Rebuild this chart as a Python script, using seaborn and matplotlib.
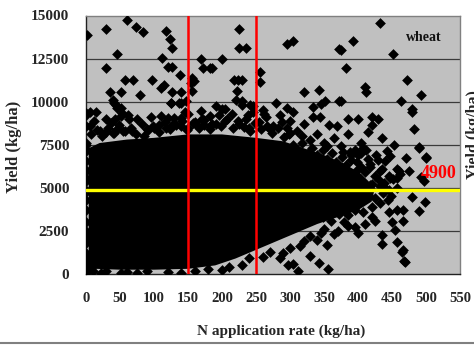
import matplotlib
matplotlib.use("Agg")
import matplotlib.pyplot as plt
import seaborn as sns
import pandas as pd
from matplotlib.lines import Line2D

# ---------------- data ----------------
# dense core of the cloud (outline of the solid black mass)
core_x = [4, 20, 60, 100, 150, 200, 250, 290, 320, 350, 380, 405, 425, 420, 400, 370,
          340, 310, 280, 250, 220, 190, 150, 100, 50, 15, 4]
core_y = [7300, 7600, 7800, 7900, 8100, 8100, 7900, 7700, 7300, 6900, 6400, 5800, 5000,
          4200, 3700, 3300, 2900, 2400, 1900, 1400, 900, 500, 300, 250, 250, 300, 600]

# individual observations visible outside / on the edge of the dense core
pts_x = [
    # high outliers
    1, 29, 60, 74, 84, 117, 124, 127, 45, 112, 29, 121, 127, 138, 57, 69, 97, 115, 111,
    156, 155, 159, 36, 52, 79, 127, 139, 156, 169, 172, 183, 125, 137, 147, 39, 44, 51,
    225, 225, 236, 200, 185, 296, 305, 372, 256, 256, 217, 224, 230, 222, 221, 229, 241, 245,
    191, 320, 343, 351, 345, 372, 295, 334,
    432, 393, 375, 452, 382, 472, 410, 412, 492, 375, 463, 479,
    # right-hand tail
    480, 483, 490, 500, 475, 497, 471, 461, 334, 344, 386, 400, 420, 429, 358, 369, 420, 414,
    435, 453, 405, 408, 443, 447, 440, 426, 430, 458, 462, 457, 447, 431, 417, 440,
    490, 500, 492, 499, 490, 480, 466, 466, 455, 457, 466, 468, 435, 436, 445, 457, 450,
    # bottom right
    297, 305, 312, 329, 342, 356, 465, 469, 260, 270, 285, 300, 320, 330, 345, 355, 370,
    385, 400, 410, 425, 290, 315, 340, 365, 395, 420, 380, 350,
    # upper fringe
    6, 14, 6, 29, 42, 52, 63, 75, 29, 39, 46, 55, 68, 86, 41, 46, 53, 110, 120, 129, 139,
    107, 100, 117, 127, 139, 125, 139, 169, 183, 161, 174, 183,
    150, 160, 170, 185, 195, 205, 215, 225, 235, 245, 255, 265, 275, 285, 295, 300, 310, 320,
    150, 200, 230, 260, 280, 305, 90, 20, 130, 165, 240, 270,
    330, 340, 350, 365, 375, 385, 395, 390, 405, 415, 300, 318, 355, 378, 398, 418, 436,
    # edge of the dense core (top)
    8, 16, 24, 33, 41, 49, 58, 66, 74, 83, 91, 99, 108, 116, 124, 133, 141, 149, 158, 166,
    174, 183, 191, 199, 208, 216, 224, 233, 241, 249, 258, 266, 274, 283, 291, 299,
    12, 37, 62, 95, 145, 172, 205, 238, 262, 288,
    # edge of the dense core (right)
    305, 312, 318, 326, 333, 340, 348, 355, 362, 368, 376, 383, 390, 397, 404, 411, 418, 425,
    432, 438, 445, 452, 310, 322, 335, 348, 360, 372, 385, 396, 408, 420, 432, 444,
    415, 425, 437, 448, 458, 420, 432, 446, 400, 412, 388,
    # left column
    0, 0, 0, 0, 0, 0, 0, 0, 0, 0, 0, 0, 0, 0, 0, 0, 0, 0, 0, 0, 2, 3, 1,
    # bottom fringe
    2, 10, 30, 52, 60, 90, 120, 160, 200, 230, 240, 75, 140, 180, 210, 8, 22,
]
pts_y = [
    13890, 14240, 14710, 14340, 14030, 14090, 13650, 13120, 12770, 12540, 11960, 12000, 12000,
    11530, 11240, 11240, 11240, 10990, 10800, 11380, 11090, 11180, 10560, 10560, 10370, 10560,
    10560, 10600, 12500, 11960, 11960, 9920, 9920, 10020, 10120, 9830, 9630,
    14190, 13120, 13120, 12480, 11960, 13350, 13500, 13060, 11700, 11140, 11240, 11240, 11240,
    10600, 10120, 10060, 9830, 9730, 9730, 10540, 10700, 10020, 9880, 10020, 9630, 9690,
    14570, 13500, 13020, 12770, 11960, 11240, 10850, 10540, 10370, 10020, 10020, 9570,
    9380, 8410, 7340, 6720, 6000, 5370, 6720, 6000, 9110, 9110, 9010, 9010, 9110, 9010, 8620,
    8560, 8660, 8240, 7890, 7500, 7630, 7310, 7110, 6820, 6530, 6920, 6630, 6080, 5810, 5560,
    5560, 5470, 5170, 4980,
    7370, 6780, 5620, 4170, 3660, 4460, 3720, 3080, 2560, 1880, 1400, 770, 2270, 1740, 3620,
    3720, 3040,
    520, 580, 190, 1050, 660, 290, 1300, 720, 1000, 1300, 900, 1500, 1900, 2200, 2400, 1700,
    2500, 2800, 2400, 2900, 3100, 1200, 1600, 2000, 2300, 2700, 3300, 3000, 2600,
    9380, 9380, 8600, 9010, 9010, 9190, 9010, 9010, 8240, 8180, 8410, 8270, 8270, 8020, 9920,
    9630, 9340, 9150, 9050, 9050, 9050, 8660, 8470, 8470, 8660, 8560, 9920, 9920, 9440, 9150,
    8760, 8660, 8560,
    8500, 8800, 9000, 8700, 9200, 8900, 9300, 8700, 9000, 9400, 8800, 9100, 8600, 9200, 8500,
    8900, 8300, 8700, 9300, 9600, 9800, 9500, 9900, 9400, 8400, 8300, 8700, 8600, 8500, 8400,
    7800, 8100, 7600, 7900, 7400, 8100, 7200, 6900, 7000, 6700, 8200, 8000, 7400, 7100, 6500,
    6200, 6100,
    8100, 8350, 8000, 8500, 8200, 8650, 8300, 8450, 8150, 8700, 8350, 8600, 8250, 8800, 8400,
    8650, 8900, 8350, 8750, 8500, 8950, 8400, 8700, 8600, 9000, 8450, 8850, 8550, 8300, 8750,
    8400, 8600, 8200, 8450, 7950, 8150,
    8900, 8750, 9250, 9100, 9400, 8950, 9600, 9200, 9300, 8800,
    7500, 7200, 7600, 7000, 7300, 6900, 7200, 6700, 7000, 6500, 6800, 6300, 6600, 6000, 6200,
    5900, 6400, 5700, 6000, 5300, 5700, 5500, 2800, 3000, 3200, 3300, 3100, 3500, 3400, 3700,
    3600, 3900, 4100, 4300, 4600, 4400, 4700, 4500, 5000, 5200, 5100, 4900, 6900, 7200, 7100,
    100, 600, 1200, 1800, 2500, 3000, 3700, 4300, 5370, 5560, 5950, 6050, 6530, 7110, 7210,
    7500, 7600, 8600, 9240, 9340, 4800, 2100, 900,
    100, 200, 150, 50, 100, 150, 120, 180, 250, 500, 900, 60, 80, 300, 400, 350, 40,
]

ref_n = [150, 250]          # red vertical reference lines (kg/ha)
ref_yield = 4900            # yellow horizontal reference line (kg/ha)
x_ticks = [0, 50, 100, 150, 200, 250, 300, 350, 400, 450, 500, 550]
y_ticks = [0, 2500, 5000, 7500, 10000, 12500, 15000]

# ---------------- figure ----------------
sns.set_style("white")
plt.rcParams['font.family'] = ['Liberation Serif', 'DejaVu Serif']
plt.rcParams['font.weight'] = 'bold'

fig = plt.figure(figsize=(4.74, 3.45), dpi=100)
ax = fig.add_axes([86 / 474, 1 - 274 / 345, (460 - 86) / 474, (274 - 15.5) / 345])
ax.set_facecolor('#C0C0C0')

for yv in y_ticks[1:-1]:
    ax.axhline(yv, color='#3a3a3a', lw=0.9, zorder=1)

ax.fill(core_x, core_y, color='black', lw=0, zorder=2)
df = pd.DataFrame({'N': pts_x, 'Yield': pts_y})
sns.scatterplot(data=df, x='N', y='Yield', marker='D', color='black', s=30,
                linewidth=0, ax=ax, zorder=3, legend=False)

ax.axhline(ref_yield, color='#FFFF00', lw=2.4, zorder=4)
for xv in ref_n:
    ax.axvline(xv, color='#FF0000', lw=1.8, zorder=5)

ax.set_xlim(0, 550)
ax.set_ylim(0, 15000)
ax.set_xticks(x_ticks)
ax.set_yticks(y_ticks)
ax.set_xticklabels([str(v) for v in x_ticks], fontsize=10.5, fontweight='bold')
ax.set_yticklabels([str(v) for v in y_ticks], fontsize=11, fontweight='bold')
ax.tick_params(axis='x', direction='in', length=4, width=0.8, color='#333333', pad=13)
ax.tick_params(axis='y', direction='out', length=2, width=0.8, color='#333333', pad=10)
ax.set_xlabel('')
ax.set_ylabel('')

for s in ['left', 'bottom']:
    ax.spines[s].set_color('#222222')
    ax.spines[s].set_linewidth(1.0)
for s in ['top', 'right']:
    ax.spines[s].set_color('#808080')
    ax.spines[s].set_linewidth(1.0)

ax.text(496, 13720, 'wheat', fontsize=10, fontweight='bold', ha='center', va='center',
        color='#111111', zorder=6)
ax.text(518, 5810, '4900', fontsize=13, fontweight='bold', ha='center', va='center',
        color='#FF0000', zorder=6)

fig.text(14 / 474, 1 - 147 / 345, 'Yield (kg/ha)', rotation=90, fontsize=12,
         fontweight='bold', ha='center', va='center')
fig.text(281 / 474, 1 - 331 / 345, 'N application rate (kg/ha)', fontsize=11,
         fontweight='bold', ha='center', va='center')
# label of the neighbouring panel, cut by the right edge as in the reference
fig.text(474 / 474, 1 - 135 / 345, 'Yield (kg/ha)', rotation=90, fontsize=11.5,
         fontweight='bold', ha='center', va='center')
fig.add_artist(Line2D([0, 1], [1 - 343 / 345, 1 - 343 / 345], color='#808080', lw=1.5,
                      transform=fig.transFigure))

fig.savefig('out.png', dpi=100)
